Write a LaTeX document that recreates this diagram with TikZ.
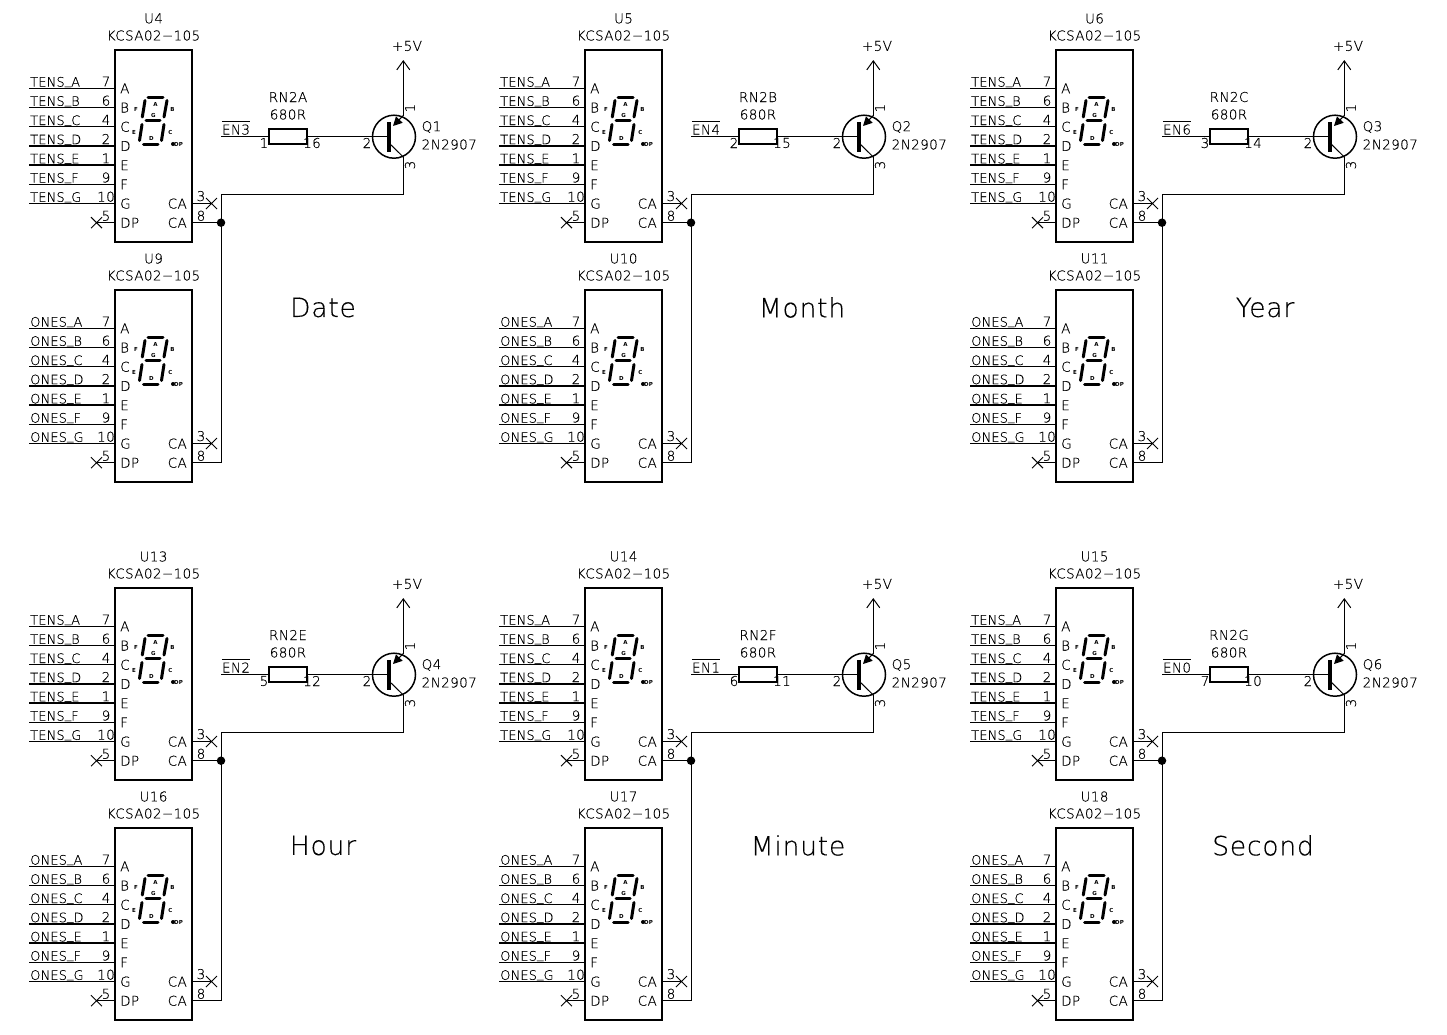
\documentclass[tikz,border=0pt]{standalone}
\usepackage{fontspec}
\setmainfont[LetterSpace=3,FakeBold=0.25]{DejaVu Sans ExtraLight}
\newfontfamily\netfont[LetterSpace=1,FakeBold=0.25]{DejaVu Sans ExtraLight}
\newfontfamily\segfont{DejaVu Sans Bold}
\usetikzlibrary{arrows.meta,shapes.misc}
\tikzset{
  wire/.style={line width=1pt},
  pinwire/.style={line width=1.4pt},
  chip/.style={draw,line width=2pt,minimum width=77pt,minimum height=192pt,inner sep=0},
  seg/.style={line width=3pt,line cap=round},
  lbl/.style={font=\fontsize{13.5}{14}\selectfont,inner sep=0},
  netlbl/.style={font=\fontsize{13}{14}\netfont,inner sep=0},
  tiny/.style={font=\fontsize{5.5}{6}\segfont,inner sep=0},
  word/.style={font=\fontsize{26.5}{27}\selectfont,inner sep=0},
  nc/.style={cross out,draw,line width=1pt,minimum size=10pt,inner sep=0},
  junction/.style={circle,fill,minimum size=8.5pt,inner sep=0},
  res/.style={draw,line width=1.8pt,minimum width=38pt,minimum height=15pt,inner sep=0},
  qcircle/.style={circle,draw,line width=1.5pt,minimum size=43pt,inner sep=0}
}
\begin{document}
\begin{tikzpicture}[x=1pt,y=-1pt]
   \useasboundingbox (0,0) rectangle (1447,1034);
   % One driver with its two displays per entry
   \foreach \dx/\dy/\ua/\ub/\rn/\pa/\pb/\en/\qn/\tname/\tx in {
      0/0/U4/U9/RN2A/1/16/EN3/Q1/Date/323,
      470/0/U5/U10/RN2B/2/15/EN4/Q2/Month/332,
      941/0/U6/U11/RN2C/3/14/EN6/Q3/Year/324,
      0/538/U13/U16/RN2E/5/12/EN2/Q4/Hour/323,
      470/538/U14/U17/RN2F/6/11/EN1/Q5/Minute/328,
      941/538/U15/U18/RN2G/7/10/EN0/Q6/Second/322}{
   \begin{scope}[shift={(\dx,\dy)}]
      % Displays
      \foreach \unit/\net/\off in {\ua/TENS/0,\ub/ONES/240}{
         \node[chip] (\unit) at (153.5,146+\off) {};
         \node[lbl] (\unit ref) at (153.5,18.5+\off) {\unit};
         \node[lbl] (\unit val) at (153.5,35.5+\off) {KCSA02−105};
         % Segment pins
         \foreach \i/\pin/\nr in {0/A/7,1/B/6,2/C/4,3/D/2,4/E/1,5/F/9,6/G/10}{
            \coordinate (\unit net\pin) at (29,88.3+19.2*\i+\off);
            \draw[pinwire] (\unit net\pin) -- (\unit.west |- \unit net\pin);
            \node[netlbl,anchor=base west] (\unit name\pin) at (30,86.6+19.2*\i+\off) {\net\raisebox{2.5pt}{\_}\pin};
            \node[lbl,anchor=base] (\unit nr\pin) at (106,86.4+19.2*\i+\off) {\nr};
            \node[lbl,anchor=base west] (\unit in\pin) at (120,93.3+19.2*\i+\off) {\pin};
         }
         % Decimal point pin
         \node[nc] (\unit ncDP) at (96.5,222.7+\off) {};
         \draw[pinwire] (\unit ncDP.center) -- (\unit.west |- \unit ncDP);
         \node[lbl,anchor=base] (\unit nrDP) at (106,220.7+\off) {5};
         \node[lbl,anchor=base west] (\unit inDP) at (120,227.7+\off) {DP};
         % Common anode pins
         \node[nc] (\unit ncCA) at (211.5,203.5+\off) {};
         \draw[pinwire] (\unit ncCA.center) -- (\unit.east |- \unit ncCA);
         \node[lbl,anchor=base] (\unit nrCAa) at (201,201+\off) {3};
         \node[lbl,anchor=base east] (\unit caA) at (187,208.5+\off) {CA};
         \coordinate (\unit J) at (221,222.7+\off);
         \draw[pinwire] (\unit J) -- (\unit.east |- \unit J);
         \node[lbl,anchor=base] (\unit nrCAb) at (201,220.7+\off) {8};
         \node[lbl,anchor=base east] (\unit caB) at (187,227.7+\off) {CA};
         % Seven segments
         \draw[seg] (148,97+\off) -- (163,97+\off);
         \draw[seg] (146,120.5+\off) -- (160,120.5+\off);
         \draw[seg] (143.5,144+\off) -- (158,144+\off);
         \draw[seg] (145,100.5+\off) -- (142.3,117+\off);
         \draw[seg] (167,100.5+\off) -- (164,117+\off);
         \draw[seg] (142,124.5+\off) -- (139.5,140.5+\off);
         \draw[seg] (164,124.5+\off) -- (161.5,140.5+\off);
         \node[circle,fill,minimum size=4pt,inner sep=0] (\unit dp) at (173,144+\off) {};
         \node[tiny] (\unit sA) at (155.5,104+\off) {A};
         \node[tiny] (\unit sB) at (172.5,109.5+\off) {B};
         \node[tiny] (\unit sC) at (170.5,132+\off) {C};
         \node[tiny] (\unit sD) at (151.5,138+\off) {D};
         \node[tiny] (\unit sE) at (134,132.5+\off) {E};
         \node[tiny] (\unit sF) at (136,109.5+\off) {F};
         \node[tiny] (\unit sG) at (153.5,115+\off) {G};
         \node[tiny] (\unit sDP) at (178.5,144+\off) {DP};
      }
      % Enable line
      \coordinate (\en start) at (221,136.7);
      \node[res] (\rn) at (288,136.7) {};
      \draw[wire] (\en start) -- (\rn.west);
      \node[lbl,anchor=base] (\en lbl) at (236,134.5) {\en};
      \draw[wire] ([yshift=2.5pt]\en lbl.north west) -- ([yshift=2.5pt]\en lbl.north east);
      \node[lbl] (\rn ref) at (288,97) {\rn};
      \node[lbl] (\rn val) at (288,114.5) {680R};
      \node[lbl] (\rn a) at (264,143) {\pa};
      \node[lbl] (\rn b) at (312,143) {\pb};
      % Transistor
      \node[qcircle] (\qn) at (394,136.7) {};
      \coordinate (\qn B) at (389,136.7);
      \coordinate (\qn Bt) at (389,122);
      \coordinate (\qn Bb) at (389,152);
      \coordinate (\qn Et) at (403.3,115.5);
      \coordinate (\qn Ei) at (393,126);
      \coordinate (\qn Ci) at (389,143);
      \coordinate (\qn Cb) at (403.3,157);
      \coordinate (\qn V) at (403.3,60);
      \draw[wire] (\rn.east) -- (\qn B);
      \draw[line width=3.2pt] (\qn Bt) -- (\qn Bb);
      \draw[wire,-{Triangle[length=9pt,width=9pt]}] (\qn Et) -- (\qn Ei);
      \draw[wire] (\qn Ci) -- (\qn Cb);
      \draw[wire,-{Straight Barb[length=9pt,width=13pt]}] (\qn Et) -- (\qn V);
      \node[lbl] (\qn sup) at (407,46) {+5V};
      \node[lbl,rotate=90] (\qn pe) at (410,108) {1};
      \node[lbl,rotate=90] (\qn pc) at (410,165) {3};
      \node[lbl] (\qn pb) at (367,143) {2};
      \node[lbl,anchor=west] (\qn ref) at (421.5,127) {\qn};
      \node[lbl,anchor=west] (\qn val) at (421.5,144.5) {2N2907};
      % Common rail
      \coordinate (\ua K) at (221,194);
      \draw[wire] (\qn Cb) |- (\ua K) -- (\ub J);
      \node[junction] (\ua dot) at (\ua J) {};
      % Group name
      \node[word] (\tname) at (\tx,307.5) {\tname};
   \end{scope}
   }
\end{tikzpicture}
\end{document}
